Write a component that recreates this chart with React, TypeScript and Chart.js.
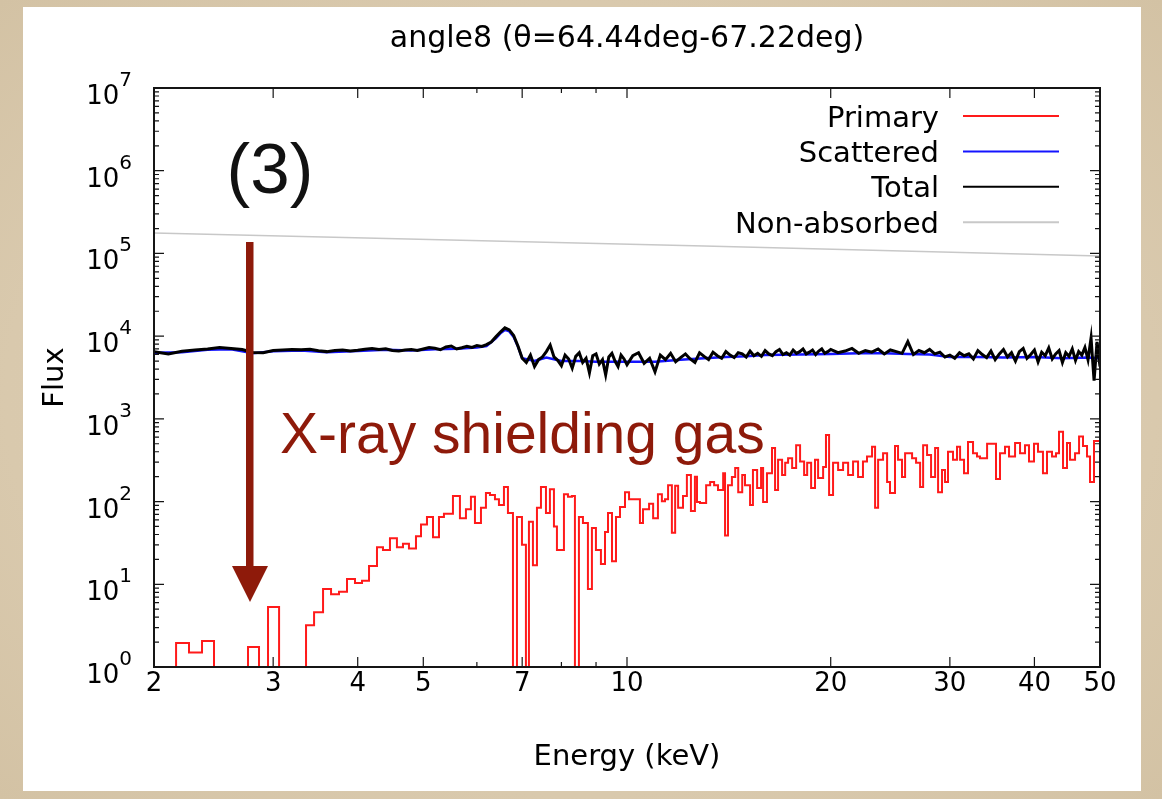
import React, { useEffect, useRef } from "react";
import { Chart, registerables } from "chart.js";

Chart.register(...registerables);

// ---------- data ----------
const titleText = "angle8 (θ=64.44deg-67.22deg)";
const xAxisTitle = "Energy (keV)";
const yAxisTitle = "Flux";
const seriesNames = ["Primary", "Scattered", "Total", "Non-absorbed"];
const seriesColors = ["#ff1a1a", "#1414ff", "#000000", "#c8c8c8"];

const xTickLabels = [2, 3, 4, 5, 7, 10, 20, 30, 40, 50];
const xMinorTicks = [6, 8, 9];
const yDecades = [0, 1, 2, 3, 4, 5, 6, 7];

// Primary: histogram bin left edges (keV) and flux per bin (last entry closes the final bin)
const primaryEnergy = [
  2.0, 2.156, 2.253, 2.355, 2.453, 2.754, 2.859, 2.948, 3.061, 3.355,
  3.448, 3.555, 3.653, 3.753, 3.857, 3.963, 4.059, 4.157, 4.271, 4.359,
  4.464, 4.571, 4.666, 4.762, 4.877, 4.961, 5.063, 5.168, 5.274, 5.364,
  5.531, 5.664, 5.781, 5.88, 5.961, 6.084, 6.188, 6.273, 6.381, 6.468,
  6.579, 6.669, 6.784, 6.877, 6.995, 7.09, 7.163, 7.261, 7.361, 7.462,
  7.59, 7.693, 7.799, 7.879, 8.069, 8.18, 8.292, 8.376, 8.491, 8.608,
  8.755, 8.875, 8.997, 9.151, 9.279, 9.374, 9.502, 9.632, 9.764, 9.932,
  10.07, 10.45, 10.56, 10.78, 10.93, 11.11, 11.26, 11.38, 11.5, 11.65,
  11.78, 11.9, 12.1, 12.26, 12.43, 12.6, 12.69, 12.82, 13.09, 13.27,
  13.45, 13.63, 13.87, 13.96, 14.1, 14.29, 14.45, 14.6, 14.8, 14.94,
  15.2, 15.35, 15.57, 15.78, 15.89, 16.1, 16.38, 16.55, 16.72, 16.95,
  17.13, 17.3, 17.54, 17.78, 18.02, 18.27, 18.46, 18.71, 18.96, 19.16,
  19.49, 19.68, 19.89, 20.16, 20.51, 20.86, 21.22, 21.58, 21.95, 22.32,
  22.63, 23.02, 23.26, 23.5, 23.9, 24.23, 24.47, 24.89, 25.15, 25.49,
  25.76, 26.38, 26.74, 27.11, 27.39, 27.76, 28.14, 28.53, 28.82, 29.21,
  29.51, 29.81, 30.32, 30.74, 31.06, 31.48, 31.91, 32.46, 32.9, 33.24,
  34.05, 35.1, 35.58, 36.19, 36.69, 37.45, 38.09, 38.74, 39.27, 39.94,
  40.49, 41.18, 41.75, 42.47, 43.05, 43.49, 44.09, 44.69, 45.15, 45.93,
  46.56, 47.19, 47.84, 48.33, 48.99, 50.0,
];
const primaryFlux = [
  0.5, 1.95, 1.5, 2.06, 0.5, 1.75, 0.5, 5.3, 0.5, 3.2,
  4.6, 8.8, 7.6, 8.1, 11.6, 10.4, 11, 16.6, 28, 26,
  36, 28, 31, 27, 38, 53, 65, 37, 65, 71,
  117, 63, 81, 114, 55, 84, 127, 120, 107, 91,
  150, 73, 0.5, 65, 30, 0.5, 57, 17, 84, 150,
  73, 141, 50, 26, 123, 114, 117, 0.5, 65, 55,
  8.8, 48, 26, 17.6, 43, 73, 19, 65, 86, 130,
  107, 55, 81, 94, 63, 123, 101, 107, 158, 42,
  155, 84, 117, 210, 77, 200, 99, 96, 158, 172,
  158, 138, 220, 39, 158, 198, 254, 130, 210, 158,
  91, 240, 146, 254, 99, 220, 445, 138, 320, 210,
  295, 335, 254, 480, 305, 210, 295, 146, 320, 193,
  262, 640, 120, 295, 240, 295, 210, 305, 198, 305,
  350, 460, 84, 320, 385, 172, 127, 470, 320, 198,
  385, 335, 295, 150, 480, 365, 198, 445, 130, 240,
  172, 400, 320, 460, 320, 220, 525, 385, 350, 335,
  500, 188, 385, 460, 350, 510, 385, 480, 305, 500,
  400, 220, 400, 350, 385, 700, 254, 510, 320, 385,
  610, 470, 350, 172, 540, 540,
];

// Total (keV / flux)
const totalEnergy = [
  2.0, 2.1, 2.2, 2.3, 2.4, 2.5, 2.6, 2.7, 2.8, 2.9,
  3.0, 3.1, 3.2, 3.3, 3.4, 3.5, 3.6, 3.7, 3.8, 3.9,
  4.0, 4.1, 4.2, 4.3, 4.4, 4.5, 4.6, 4.7, 4.8, 4.9,
  5.0, 5.1, 5.2, 5.3, 5.4, 5.5, 5.6, 5.7, 5.8, 5.9,
  6.0, 6.1, 6.2, 6.3, 6.4, 6.5, 6.6, 6.7, 6.8, 6.9,
  7.0, 7.1, 7.2, 7.3, 7.4, 7.5, 7.6, 7.7, 7.8, 7.9,
  8.0, 8.1, 8.2, 8.3, 8.4, 8.5, 8.6, 8.7, 8.8, 8.9,
  9.0, 9.1, 9.2, 9.3, 9.4, 9.5, 9.6, 9.7, 9.8, 9.9,
  10.0, 10.2, 10.4, 10.6, 10.8, 11.0, 11.2, 11.4, 11.6, 11.8,
  12.0, 12.2, 12.4, 12.6, 12.8, 13.0, 13.2, 13.4, 13.6, 13.8,
  14.0, 14.2, 14.4, 14.6, 14.8, 15.0, 15.2, 15.4, 15.6, 15.8,
  16.0, 16.2, 16.4, 16.6, 16.8, 17.0, 17.2, 17.4, 17.6, 17.8,
  18.0, 18.2, 18.4, 18.6, 18.8, 19.0, 19.2, 19.4, 19.6, 19.8,
  20.0, 20.5, 21.0, 21.5, 22.0, 22.5, 23.0, 23.5, 24.0, 24.5,
  25.0, 25.5, 26.0, 26.5, 27.0, 27.5, 28.0, 28.5, 29.0, 29.5,
  30.0, 30.5, 31.0, 31.5, 32.0, 32.5, 33.0, 33.5, 34.0, 34.5,
  35.0, 35.5, 36.0, 36.5, 37.0, 37.5, 38.0, 38.5, 39.0, 39.5,
  40.0, 40.5, 41.0, 41.5, 42.0, 42.5, 43.0, 43.5, 44.0, 44.5,
  45.0, 45.5, 46.0, 46.5, 47.0, 47.5, 48.0, 48.5, 49.0, 49.5,
  50.0,
];
const totalFlux = [
  6500, 6100, 6550, 6800, 7000, 7300, 7100, 6900, 6350, 6300,
  6700, 6800, 6900, 6850, 6950, 6650, 6500, 6700, 6800, 6600,
  6750, 6950, 7100, 6900, 7050, 6700, 6600, 6800, 6900, 6700,
  7000, 7300, 7150, 6850, 7400, 7600, 7000, 7250, 7550, 7300,
  7700, 7500, 7900, 8500, 9800, 11200, 12600, 11900, 10200, 7600,
  5400, 4800, 5900, 4300, 5200, 5600, 6500, 7800, 5600, 5100,
  4400, 5900, 5300, 4100, 5700, 6300, 4800, 5400, 3600, 5800,
  6100, 4600, 5200, 3400, 5600, 6200, 5000, 4300, 5900, 5300,
  4500, 5800, 6300, 4700, 5400, 3700, 5900, 5200, 6200, 4900,
  5500, 6100, 5300, 4800, 6300, 5700, 5200, 6400, 5800, 5400,
  6500, 5900, 5500, 6300, 6100, 5600, 6600, 5800, 6200, 5700,
  6700, 6100, 5800, 6500, 6900, 6000, 6300, 5900, 6800, 6200,
  6500, 7000, 6100, 6400, 6800, 6000, 6600, 7000, 6200, 6500,
  6900, 6300, 6600, 7100, 6200, 6700, 6400, 7000, 6100, 6800,
  6500, 6200, 8600, 6000, 6700, 6300, 6900, 6100, 6400, 5600,
  5900, 5400, 6300, 5800, 6100, 5300, 6700, 6000, 5500, 6600,
  5200, 6100, 6900, 5600, 6300, 5000, 6500, 7100, 5400, 6000,
  6800, 4900, 6400, 5800, 7200, 5300, 6100, 6700, 4800, 6300,
  5700, 7000, 5100, 6500, 5900, 7300, 5200, 9500, 2900, 8500,
  4300,
];

// Scattered (keV / flux)
const scatteredEnergy = [
  2.0, 2.2, 2.4, 2.6, 2.8, 3.0, 3.3, 3.6, 4.0, 4.4,
  4.8, 5.2, 5.6, 6.0, 6.2, 6.4, 6.5, 6.6, 6.7, 6.8,
  6.9, 7.0, 7.3, 7.6, 8.0, 8.5, 9.0, 10, 11, 12,
  13, 14, 15, 16, 18, 20, 22, 24, 26, 28,
  30, 33, 36, 40, 44, 48, 50,
];
const scatteredFlux = [
  6300, 6400, 6850, 6950, 6200, 6550, 6700, 6400, 6600, 6850,
  6700, 6950, 7050, 7300, 7600, 9400, 10800, 11900, 11400, 9800,
  7500, 5400, 5000, 5500, 5000, 5000, 4900, 4900, 4900, 5200,
  5400, 5600, 5700, 5900, 6000, 6100, 6200, 6200, 6100, 6000,
  5600, 5600, 5500, 5600, 5400, 5500, 5400,
];

// Non-absorbed (keV / flux)
const nonAbsorbedEnergy = [2, 13, 50];
const nonAbsorbedFlux = [177000, 123000, 93000];

// ---------- helpers ----------
const pts = (xs: number[], ys: number[]) => xs.map((x, i) => ({ x, y: ys[i] }));

const AXIS_FONT = '"DejaVu Sans", sans-serif';
const NOTE_FONT = '"Liberation Sans", Arial, sans-serif';
const NOTE_COLOR = "#8e1a0a";

const overlayPlugin = {
  id: "overlay",
  afterDraw(chart: any) {
    const ctx: CanvasRenderingContext2D = chart.ctx;
    const { left, right, top, bottom } = chart.chartArea;
    const xs = chart.scales.x;
    const ys = chart.scales.y;
    ctx.save();

    // frame
    ctx.strokeStyle = "#151515";
    ctx.lineWidth = 2;
    ctx.strokeRect(left, top, right - left, bottom - top);

    // y ticks
    ctx.lineWidth = 1.2;
    ctx.beginPath();
    yDecades.forEach((d) => {
      const y = ys.getPixelForValue(Math.pow(10, d));
      ctx.moveTo(left, y); ctx.lineTo(left + 10, y);
      ctx.moveTo(right, y); ctx.lineTo(right - 10, y);
      if (d < 7) {
        for (let k = 2; k <= 9; k++) {
          const ym = ys.getPixelForValue(k * Math.pow(10, d));
          ctx.moveTo(left, ym); ctx.lineTo(left + 5, ym);
          ctx.moveTo(right, ym); ctx.lineTo(right - 5, ym);
        }
      }
    });
    // x ticks
    xTickLabels.forEach((v) => {
      const x = xs.getPixelForValue(v);
      ctx.moveTo(x, bottom); ctx.lineTo(x, bottom - 10);
      ctx.moveTo(x, top); ctx.lineTo(x, top + 10);
    });
    xMinorTicks.forEach((v) => {
      const x = xs.getPixelForValue(v);
      ctx.moveTo(x, bottom); ctx.lineTo(x, bottom - 5);
      ctx.moveTo(x, top); ctx.lineTo(x, top + 5);
    });
    ctx.stroke();

    ctx.fillStyle = "#000";
    // y labels 10^n
    yDecades.forEach((d) => {
      const y = ys.getPixelForValue(Math.pow(10, d));
      const labelRight = left - 22;
      ctx.font = `20px ${AXIS_FONT}`;
      const exp = String(d);
      const we = ctx.measureText(exp).width;
      ctx.font = `26px ${AXIS_FONT}`;
      const wb = ctx.measureText("10").width;
      ctx.textAlign = "left";
      ctx.textBaseline = "alphabetic";
      ctx.fillText("10", labelRight - we - wb, y + 16);
      ctx.font = `20px ${AXIS_FONT}`;
      ctx.fillText(exp, labelRight - we, y - 2);
    });

    // x labels
    ctx.font = `26px ${AXIS_FONT}`;
    ctx.textAlign = "center";
    ctx.textBaseline = "alphabetic";
    xTickLabels.forEach((v) => {
      ctx.fillText(String(v), xs.getPixelForValue(v), bottom + 24);
    });

    // axis titles
    ctx.font = `29px ${AXIS_FONT}`;
    ctx.fillText(xAxisTitle, (left + right) / 2, bottom + 98);
    ctx.save();
    ctx.translate(55, (top + bottom) / 2);
    ctx.rotate(-Math.PI / 2);
    ctx.textBaseline = "middle";
    ctx.fillText(yAxisTitle, 0, 0);
    ctx.restore();

    // title
    ctx.font = `30px ${AXIS_FONT}`;
    ctx.textAlign = "center";
    ctx.textBaseline = "alphabetic";
    ctx.fillText(titleText, (left + right) / 2, top - 41);

    // legend
    ctx.font = `29px ${AXIS_FONT}`;
    ctx.textAlign = "right";
    const ds = chart.data.datasets;
    const legendTextRight = right - 161;
    seriesNames.forEach((name, i) => {
      const ly = top + 28 + i * 35.4;
      ctx.fillStyle = "#000";
      ctx.fillText(name, legendTextRight, ly + 10.5);
      const d = ds.find((s: any) => s.label === name);
      ctx.strokeStyle = d ? d.borderColor : seriesColors[i];
      ctx.lineWidth = 2;
      ctx.beginPath();
      ctx.moveTo(legendTextRight + 24, ly);
      ctx.lineTo(legendTextRight + 120, ly);
      ctx.stroke();
    });

    // annotations
    ctx.fillStyle = "#111";
    ctx.font = `71px ${NOTE_FONT}`;
    ctx.textAlign = "center";
    ctx.fillText("(3)", 270, 193);

    ctx.fillStyle = NOTE_COLOR;
    ctx.fillRect(246, 242, 7.5, 326);
    ctx.beginPath();
    ctx.moveTo(232, 566);
    ctx.lineTo(268, 566);
    ctx.lineTo(250, 602);
    ctx.closePath();
    ctx.fill();

    ctx.font = `57px ${NOTE_FONT}`;
    ctx.textAlign = "left";
    ctx.fillText("X-ray shielding gas", 280, 453);

    ctx.restore();
  },
};

export default function App() {
  const canvasRef = useRef<HTMLCanvasElement | null>(null);

  useEffect(() => {
    if (!canvasRef.current) return;
    const chart = new Chart(canvasRef.current, {
      type: "line",
      data: {
        datasets: [
          {
            label: seriesNames[0],
            data: pts(primaryEnergy, primaryFlux),
            borderColor: seriesColors[0],
            borderWidth: 2,
            stepped: "before",
            pointRadius: 0,
            fill: false,
            order: 2,
          },
          {
            label: seriesNames[1],
            data: pts(scatteredEnergy, scatteredFlux),
            borderColor: seriesColors[1],
            borderWidth: 2.5,
            pointRadius: 0,
            fill: false,
            order: 1,
          },
          {
            label: seriesNames[2],
            data: pts(totalEnergy, totalFlux),
            borderColor: seriesColors[2],
            borderWidth: 3,
            pointRadius: 0,
            fill: false,
            order: 0,
          },
          {
            label: seriesNames[3],
            data: pts(nonAbsorbedEnergy, nonAbsorbedFlux),
            borderColor: seriesColors[3],
            borderWidth: 1.5,
            pointRadius: 0,
            fill: false,
            order: 3,
          },
        ] as any,
      },
      options: {
        responsive: false,
        maintainAspectRatio: false,
        animation: false,
        devicePixelRatio: 1,
        events: [],
        layout: { padding: { left: 154, top: 88, right: 62, bottom: 132 } },
        scales: {
          x: { type: "logarithmic", min: 2, max: 50, display: false },
          y: { type: "logarithmic", min: 1, max: 1e7, display: false },
        },
        plugins: {
          legend: { display: false },
          title: { display: false },
          tooltip: { enabled: false },
        },
      } as any,
      plugins: [overlayPlugin],
    });
    return () => chart.destroy();
  }, []);

  return (
    <div
      style={{
        position: "fixed",
        left: 0,
        top: 0,
        width: 1162,
        height: 799,
        background:
          "radial-gradient(ellipse at 50% 50%, #ddd0b8 0%, #d9c9ad 70%, #d3c2a4 100%)",
        overflow: "hidden",
      }}
    >
      <div
        style={{
          position: "absolute",
          left: 23,
          top: 7,
          width: 1118,
          height: 784,
          background: "#ffffff",
        }}
      />
      <canvas
        ref={canvasRef}
        width={1162}
        height={799}
        style={{ position: "absolute", left: 0, top: 0, width: 1162, height: 799 }}
      />
    </div>
  );
}
